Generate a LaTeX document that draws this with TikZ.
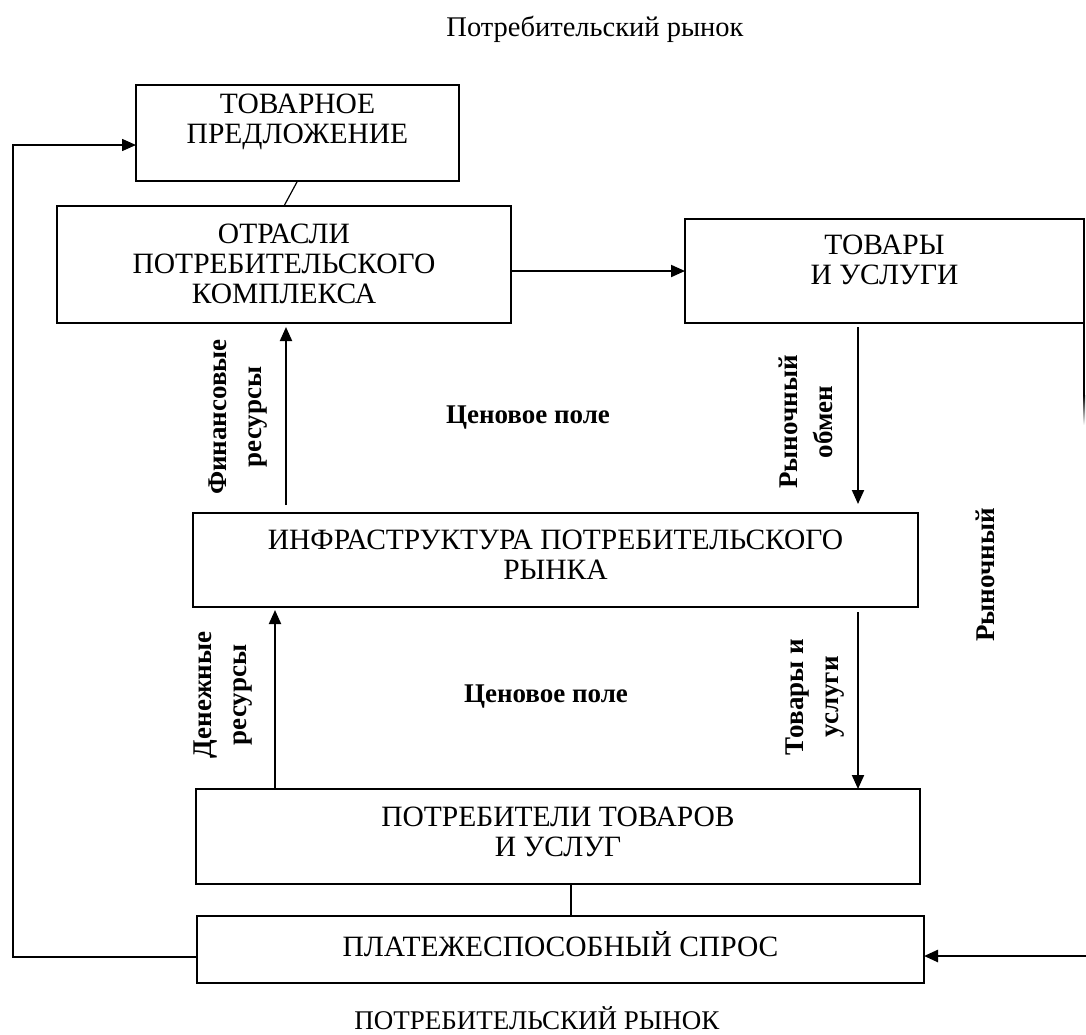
\documentclass[tikz,border=0pt]{standalone}
\usepackage{fontspec}
\setmainfont{Liberation Serif}
\usetikzlibrary{arrows.meta,calc}
% fixed-size box content: width, height, gap above first line, text
\newcommand\boxcell[4]{\parbox[c][#2][t]{#1}{\centering\fontsize{29.5}{30}\selectfont\vspace*{#3}\strut #4\par}}
\begin{document}
\begin{tikzpicture}[x=1pt,y=-1pt,
  every node/.style={inner sep=0pt, outer sep=0pt},
  blk/.style={draw, line width=2pt},
  flow/.style={line width=2pt, -{Triangle[length=14pt,width=12pt]}},
  link/.style={line width=1.2pt},
  tag/.style={font=\fontsize{27}{35}\selectfont\bfseries, align=center, rotate=90},
  field/.style={font=\fontsize{27}{30}\selectfont\bfseries},
]
\useasboundingbox (0,0) rectangle (1086,1034);

% headings
\node[font=\fontsize{28.5}{30}\selectfont] (title) at (595,29) {Потребительский рынок};
\node[font=\fontsize{27}{30}\selectfont] (caption) at (537,1018) {ПОТРЕБИТЕЛЬСКИЙ РЫНОК};

% blocks
\node[blk] (tp) at (297.5,133) {\boxcell{323pt}{96pt}{7.75pt}{ТОВАРНОЕ\\ПРЕДЛОЖЕНИЕ}};
\node[blk] (otr) at (284,264.5) {\boxcell{454pt}{117pt}{16.75pt}{ОТРАСЛИ\\ПОТРЕБИТЕЛЬСКОГО\\КОМПЛЕКСА}};
\node[blk] (tov) at (884.5,271) {\boxcell{399pt}{104pt}{14.75pt}{ТОВАРЫ\\И УСЛУГИ}};
\node[blk] (inf) at (555.5,560) {\boxcell{725pt}{94pt}{15.75pt}{ИНФРАСТРУКТУРА ПОТРЕБИТЕЛЬСКОГО\\РЫНКА}};
\node[blk] (potr) at (558,836.5) {\boxcell{724pt}{95pt}{16.75pt}{ПОТРЕБИТЕЛИ ТОВАРОВ\\И УСЛУГ}};
\node[blk] (plat) at (560.5,949.5) {\boxcell{727pt}{67pt}{15.75pt}{ПЛАТЕЖЕСПОСОБНЫЙ СПРОС}};

% flow labels
\node[tag] (fin) at (238,417) {Финансовые\\ресурсы};
\node[tag] (obm) at (806,422) {Рыночный\\обмен};
\node[tag] (den) at (223,695) {Денежные\\ресурсы};
\node[tag] (tu) at (815,697) {Товары и\\услуги};
\node[tag] (ryn) at (985,575) {Рыночный};
\node[field] (cp1) at (528,418) {Ценовое поле};
\node[field] (cp2) at (546,697) {Ценовое поле};

% guide coordinates for vertical connectors
\coordinate (xa) at (858,0);
\coordinate (xb) at (286,0);
\coordinate (xc) at (275,0);
\coordinate (xd) at (571,0);
\coordinate (fb) at (13,957);
\coordinate (rin) at (1086,956);
\coordinate (rfade) at (1084,395);

% connectors
\draw[flow, line width=1.5pt] ([yshift=-7.5pt]plat.west) -- (fb) |- ([yshift=-12pt]tp.west);
\draw[link] (tp.south) -- (otr.north);
\draw[flow] (otr.east |- tov.west) -- (tov.west);
\draw[flow, shorten <=4pt, shorten >=9pt] (tov.south -| xa) -- (inf.north -| xa);
\draw[flow, shorten <=8pt, shorten >=4pt] (inf.north -| xb) -- (otr.south -| xb);
\draw[flow, shorten >=3pt] (potr.north -| xc) -- (inf.south -| xc);
\draw[flow, shorten <=5pt] (inf.south -| xa) -- (potr.north -| xa);
\draw[link] (potr.south -| xd) -- (plat.north -| xd);
\draw[flow, line width=2.5pt] (rin) -- ([yshift=-6.5pt]plat.east);
\draw[line width=2pt] (tov.south east) -- (rfade);
\shade[top color=black, bottom color=white] (1083,395) rectangle (1085,425);
\end{tikzpicture}
\end{document}
